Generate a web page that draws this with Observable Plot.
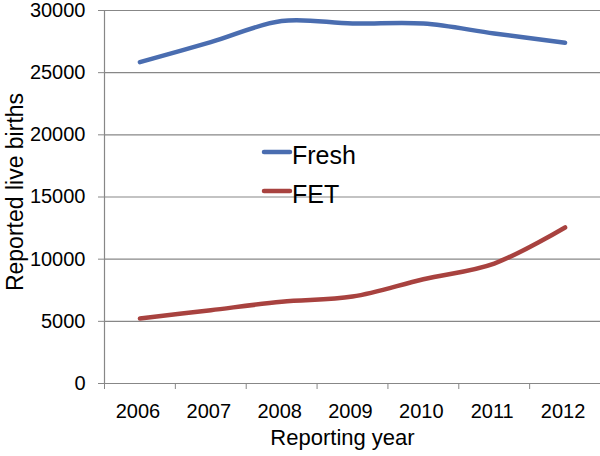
<!DOCTYPE html>
<html>
<head>
<meta charset="utf-8">
<script src="https://cdn.jsdelivr.net/npm/d3@7"></script>
<script src="https://cdn.jsdelivr.net/npm/@observablehq/plot@0.6"></script>
<style>
  html, body { margin: 0; padding: 0; background: #fff; }
  #wrap { position: relative; width: 600px; height: 456px; font-family: "Liberation Sans", Arial, sans-serif; }
  #legend { position: absolute; left: 0; top: 0; }
</style>
</head>
<body>
<div id="wrap"></div>
<script>
const years = [2006, 2007, 2008, 2009, 2010, 2011, 2012];
const fresh = [25850, 27450, 29150, 28950, 28950, 28150, 27400];
const fet = [5220, 5900, 6570, 6990, 8390, 9650, 12550];
const seriesNames = ["Fresh", "FET"];
const seriesColors = ["#4a6db0", "#a8423f"];
const yTicks = [0, 5000, 10000, 15000, 20000, 25000, 30000];
const xLabel = "Reporting year";
const yLabel = "Reported live births";

const rows = [];
years.forEach((yr, i) => {
  rows.push({year: yr, value: fresh[i], series: seriesNames[0]});
  rows.push({year: yr, value: fet[i], series: seriesNames[1]});
});
const bounds = [years[0] - 0.5, ...years.map(y => y + 0.5)];
const gray = "#878787";

const chart = Plot.plot({
  width: 600,
  height: 456,
  marginLeft: 104,
  marginRight: 0,
  marginTop: 10,
  marginBottom: 73,
  style: {fontFamily: "'Liberation Sans', Arial, sans-serif", color: "#000", background: "#fff"},
  x: {domain: [bounds[0], bounds[bounds.length - 1]]},
  y: {domain: [0, 30000]},
  color: {domain: seriesNames, range: seriesColors},
  marks: [
    Plot.ruleY(yTicks, {stroke: gray, strokeWidth: 1.2}),
    Plot.ruleX([bounds[0]], {stroke: gray, strokeWidth: 1.2}),
    Plot.axisY({ticks: yTicks, tickSize: 6, tickPadding: 13, fontSize: 20, label: null, stroke: gray, tickFormat: d => String(d)}),
    Plot.axisX({ticks: bounds, tickSize: 6, tickFormat: () => "", label: null, stroke: gray}),
    Plot.axisX({ticks: years, tickSize: 0, tickPadding: 20, fontSize: 20, label: null, tickFormat: d => String(d), dx: -2}),
    Plot.line(rows, {x: "year", y: "value", z: "series", stroke: "series", strokeWidth: 4.5, curve: "catmull-rom", strokeLinecap: "round"}),
    Plot.text([xLabel], {frameAnchor: "bottom", dy: 61, dx: -10, fontSize: 22}),
    Plot.text([yLabel], {frameAnchor: "left", textAnchor: "middle", rotate: -90, dx: -89, dy: -5, fontSize: 23})
  ]
});
const wrap = document.getElementById("wrap");
wrap.appendChild(chart);

// Legend overlay
const ns = "http://www.w3.org/2000/svg";
const leg = document.createElementNS(ns, "svg");
leg.setAttribute("id", "legend");
leg.setAttribute("width", 600);
leg.setAttribute("height", 456);
const legY = [152, 191];
seriesNames.forEach((name, i) => {
  const ln = document.createElementNS(ns, "line");
  ln.setAttribute("x1", 264); ln.setAttribute("x2", 290);
  ln.setAttribute("y1", legY[i]); ln.setAttribute("y2", legY[i]);
  ln.setAttribute("stroke", seriesColors[i]);
  ln.setAttribute("stroke-width", 4.5);
  ln.setAttribute("stroke-linecap", "round");
  leg.appendChild(ln);
  const tx = document.createElementNS(ns, "text");
  tx.setAttribute("x", 292);
  tx.setAttribute("y", legY[i] + 12);
  tx.setAttribute("font-size", 25);
  tx.setAttribute("font-family", "'Liberation Sans', Arial, sans-serif");
  tx.textContent = name;
  leg.appendChild(tx);
});
wrap.appendChild(leg);
</script>
</body>
</html>
